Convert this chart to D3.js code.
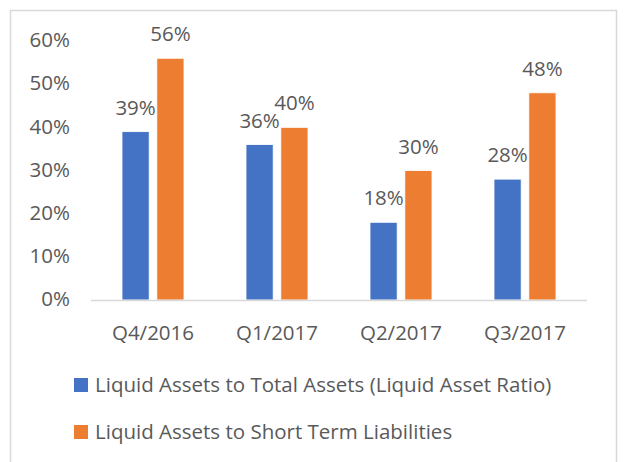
<!DOCTYPE html>
<html>
<head>
<meta charset="utf-8">
<script src="https://cdn.jsdelivr.net/npm/d3@7/dist/d3.min.js"></script>
<style>
  body { margin: 0; background: #fff; }
  text { font-family: "Open Sans", sans-serif; fill: #595959; }
</style>
</head>
<body>
<svg id="chart" width="624" height="462"></svg>
<script>
var CATEGORIES = ["Q4/2016", "Q1/2017", "Q2/2017", "Q3/2017"];
var SERIES_NAMES = ["Liquid Assets to Total Assets (Liquid Asset Ratio)",
                    "Liquid Assets to Short Term Liabilities"];
var LIQUID_ASSET_RATIO = [0.39, 0.36, 0.18, 0.28];
var SHORT_TERM_RATIO = [0.56, 0.40, 0.30, 0.48];
var Y_TICKS = [0, 0.1, 0.2, 0.3, 0.4, 0.5, 0.6];

var COLORS = ["#4472C4", "#ED7D31"];
var FONT_SIZE = 20.5;

var svg = d3.select("#chart");

// Chart frame (bottom edge falls outside the picture)
svg.append("rect")
    .attr("x", 10.5)
    .attr("y", 10.5)
    .attr("width", 606)
    .attr("height", 470)
    .attr("fill", "none")
    .attr("stroke", "#d9d9d9")
    .attr("stroke-width", 1.5);

var xScale = d3.scaleBand()
    .domain(CATEGORIES)
    .range([91, 587])
    .paddingInner(0.5)
    .paddingOuter(0.25);

var xInner = d3.scaleBand()
    .domain([0, 1])
    .range([0, xScale.bandwidth()])
    .paddingInner(0.22);

var yScale = d3.scaleLinear()
    .domain([0, 0.6])
    .range([300, 41]);

var pct = d3.format(".0%");

// Y tick labels
svg.append("g")
    .selectAll("text")
    .data(Y_TICKS)
    .enter()
    .append("text")
    .attr("x", 70)
    .attr("y", d => yScale(d) - 1)
    .attr("dy", "0.35em")
    .attr("text-anchor", "end")
    .style("font-size", FONT_SIZE + "px")
    .text(d => pct(d));

// Bars
var seriesData = [LIQUID_ASSET_RATIO, SHORT_TERM_RATIO];
for (var s = 0; s < seriesData.length; s++) {
    var g = svg.append("g");
    g.selectAll("rect")
        .data(seriesData[s])
        .enter()
        .append("rect")
        .attr("x", (d, i) => xScale(CATEGORIES[i]) + xInner(s))
        .attr("y", d => yScale(d))
        .attr("width", xInner.bandwidth())
        .attr("height", d => yScale(0) - yScale(d))
        .attr("fill", COLORS[s])
        .attr("stroke", "#fff")
        .attr("stroke-width", 0.8);

    g.selectAll("text")
        .data(seriesData[s])
        .enter()
        .append("text")
        .attr("x", (d, i) => xScale(CATEGORIES[i]) + xInner(s) + xInner.bandwidth() / 2)
        .attr("y", d => yScale(d) - 17)
        .attr("text-anchor", "middle")
        .style("font-size", FONT_SIZE + "px")
        .text(d => pct(d));
}

// X axis line
svg.append("line")
    .attr("x1", xScale.range()[0])
    .attr("x2", xScale.range()[1])
    .attr("y1", yScale(0) + 0.5)
    .attr("y2", yScale(0) + 0.5)
    .attr("stroke", "#d9d9d9")
    .attr("stroke-width", 1.5);

// Category labels
svg.append("g")
    .selectAll("text")
    .data(CATEGORIES)
    .enter()
    .append("text")
    .attr("x", d => xScale(d) + xScale.bandwidth() / 2)
    .attr("y", 340)
    .attr("text-anchor", "middle")
    .style("font-size", FONT_SIZE + "px")
    .text(d => d);

// Legend
var legend = svg.append("g")
    .selectAll("g")
    .data(SERIES_NAMES)
    .enter()
    .append("g")
    .attr("transform", (d, i) => "translate(74," + (385 + i * 47) + ")");

legend.append("rect")
    .attr("x", 0)
    .attr("y", -7)
    .attr("width", 14)
    .attr("height", 14)
    .attr("fill", (d, i) => COLORS[i]);

legend.append("text")
    .attr("x", 21)
    .attr("y", 0)
    .attr("dy", "0.35em")
    .style("font-size", FONT_SIZE + "px")
    .text(d => d);
</script>
</body>
</html>
